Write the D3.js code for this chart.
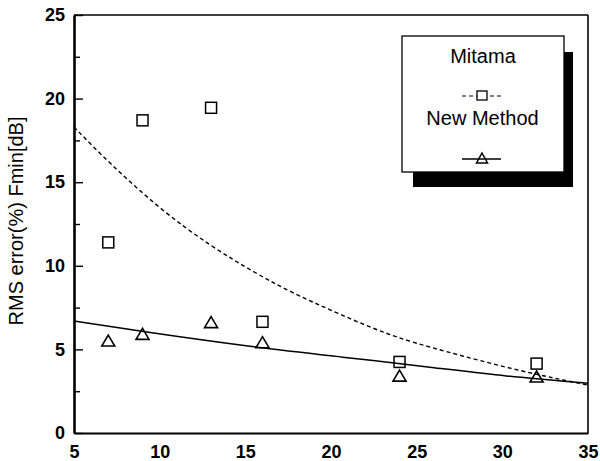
<!DOCTYPE html>
<html>
<head>
<meta charset="utf-8">
<script src="https://cdn.jsdelivr.net/npm/d3@7/dist/d3.min.js"></script>
<style>
  html, body { margin: 0; padding: 0; background: #fff; }
  svg { display: block; font-family: "Liberation Sans", Arial, Helvetica, sans-serif; }
</style>
</head>
<body>
<svg id="chart" width="600" height="461"></svg>
<script>
// ---- data ----
const seriesNames = ["Mitama", "New Method"];
const pointX = [7, 9, 13, 16, 24, 32];
const mitamaValues = [11.4, 18.7, 19.45, 6.65, 4.25, 4.15];
const newMethodValues = [5.5, 5.9, 6.6, 5.4, 3.4, 3.35];

const mitamaFitX = [5, 7, 10, 13, 15.7, 17.6, 20.5, 23.5, 26.4, 31, 35];
const mitamaFitY = [18.3, 16.2, 13.4, 11.15, 9.5, 8.45, 7.1, 5.8, 4.95, 3.7, 2.87];
const newFitX = [5, 9, 15.7, 20.5, 26.4, 30, 35];
const newFitY = [6.7, 6.06, 5.1, 4.56, 3.87, 3.41, 2.97];

const xTicks = [5, 10, 15, 20, 25, 30, 35];
const yTicks = [0, 5, 10, 15, 20, 25];
const yMinorTicks = [2.5, 7.5, 12.5, 17.5, 22.5];
const yLabel = "RMS error(%) Fmin[dB]";

// ---- layout ----
const svg = d3.select("#chart");
const L = 74, R = 588, T = 15, B = 433;
const x = d3.scaleLinear().domain([5, 35]).range([L, R]);
const y = d3.scaleLinear().domain([0, 25]).range([B, T]);

// frame (top & right)
svg.append("line").attr("x1", L).attr("x2", R).attr("y1", T).attr("y2", T)
  .attr("stroke", "#000").attr("stroke-width", 1.6);
svg.append("line").attr("x1", R).attr("x2", R).attr("y1", T).attr("y2", B)
  .attr("stroke", "#000").attr("stroke-width", 1.6);

// left axis
const yAxis = svg.append("g").attr("transform", `translate(${L},0)`)
  .call(d3.axisLeft(y).tickValues(yTicks).tickSizeInner(-9).tickSizeOuter(0).tickPadding(9).tickFormat(d3.format("d")));
yAxis.select(".domain").attr("stroke-width", 2.6);
yAxis.selectAll(".tick line").attr("stroke-width", 1.4);
yAxis.selectAll("text").attr("font-size", 18).attr("font-weight", "bold").attr("fill", "#000");

const yMinor = svg.append("g").attr("transform", `translate(${L},0)`)
  .call(d3.axisLeft(y).tickValues(yMinorTicks).tickSizeInner(-6).tickSizeOuter(0).tickFormat(""));
yMinor.select(".domain").remove();
yMinor.selectAll(".tick line").attr("stroke-width", 1.4);

// bottom axis
const xAxis = svg.append("g").attr("transform", `translate(0,${B})`)
  .call(d3.axisBottom(x).tickValues(xTicks).tickSizeInner(0).tickSizeOuter(0).tickPadding(12).tickFormat(d3.format("d")));
xAxis.select(".domain").attr("stroke-width", 2.2);
xAxis.selectAll("text").attr("font-size", 18).attr("font-weight", "bold").attr("fill", "#000");

// y label
svg.append("text")
  .attr("transform", "translate(23,221) rotate(-90)")
  .attr("text-anchor", "middle")
  .attr("font-size", 20)
  .text(yLabel);

// fit curves
const line = d3.line().x(d => x(d[0])).y(d => y(d[1])).curve(d3.curveBasis);
svg.append("path")
  .datum(mitamaFitX.map((v, i) => [v, mitamaFitY[i]]))
  .attr("d", line).attr("fill", "none").attr("stroke", "#000")
  .attr("stroke-width", 1.4).attr("stroke-dasharray", "4,3");
svg.append("path")
  .datum(newFitX.map((v, i) => [v, newFitY[i]]))
  .attr("d", line).attr("fill", "none").attr("stroke", "#000")
  .attr("stroke-width", 1.5);

// markers
const sq = 11;
svg.append("g").selectAll("rect").data(pointX.map((v, i) => [v, mitamaValues[i]]))
  .join("rect")
  .attr("x", d => x(d[0]) - sq / 2).attr("y", d => y(d[1]) - sq / 2)
  .attr("width", sq).attr("height", sq)
  .attr("fill", "none").attr("stroke", "#000").attr("stroke-width", 1.5);

const tri = "M0,-6L6.5,5L-6.5,5Z";
svg.append("g").selectAll("path").data(pointX.map((v, i) => [v, newMethodValues[i]]))
  .join("path")
  .attr("transform", d => `translate(${x(d[0])},${y(d[1])})`)
  .attr("d", tri)
  .attr("fill", "none").attr("stroke", "#000").attr("stroke-width", 1.6);

// legend
const lg = svg.append("g");
lg.append("rect").attr("x", 413).attr("y", 52).attr("width", 160).attr("height", 135).attr("fill", "#000");
lg.append("rect").attr("x", 402).attr("y", 36).attr("width", 162).attr("height", 136)
  .attr("fill", "#fff").attr("stroke", "#000").attr("stroke-width", 1.3);
lg.append("text").attr("x", 483).attr("y", 63).attr("text-anchor", "middle").attr("font-size", 20).text(seriesNames[0]);
lg.append("line").attr("x1", 462).attr("x2", 501).attr("y1", 96).attr("y2", 96)
  .attr("stroke", "#000").attr("stroke-width", 1.2).attr("stroke-dasharray", "4,3");
lg.append("rect").attr("x", 477).attr("y", 91).attr("width", 10).attr("height", 9)
  .attr("fill", "#fff").attr("stroke", "#000").attr("stroke-width", 1.3);
lg.append("text").attr("x", 482.5).attr("y", 125).attr("text-anchor", "middle").attr("font-size", 20).text(seriesNames[1]);
lg.append("line").attr("x1", 462).attr("x2", 501).attr("y1", 159).attr("y2", 159)
  .attr("stroke", "#000").attr("stroke-width", 1.3);
lg.append("path").attr("transform", "translate(482,158.5)").attr("d", "M0,-5.5L5.5,4.5L-5.5,4.5Z")
  .attr("fill", "none").attr("stroke", "#000").attr("stroke-width", 1.5);
</script>
</body>
</html>
